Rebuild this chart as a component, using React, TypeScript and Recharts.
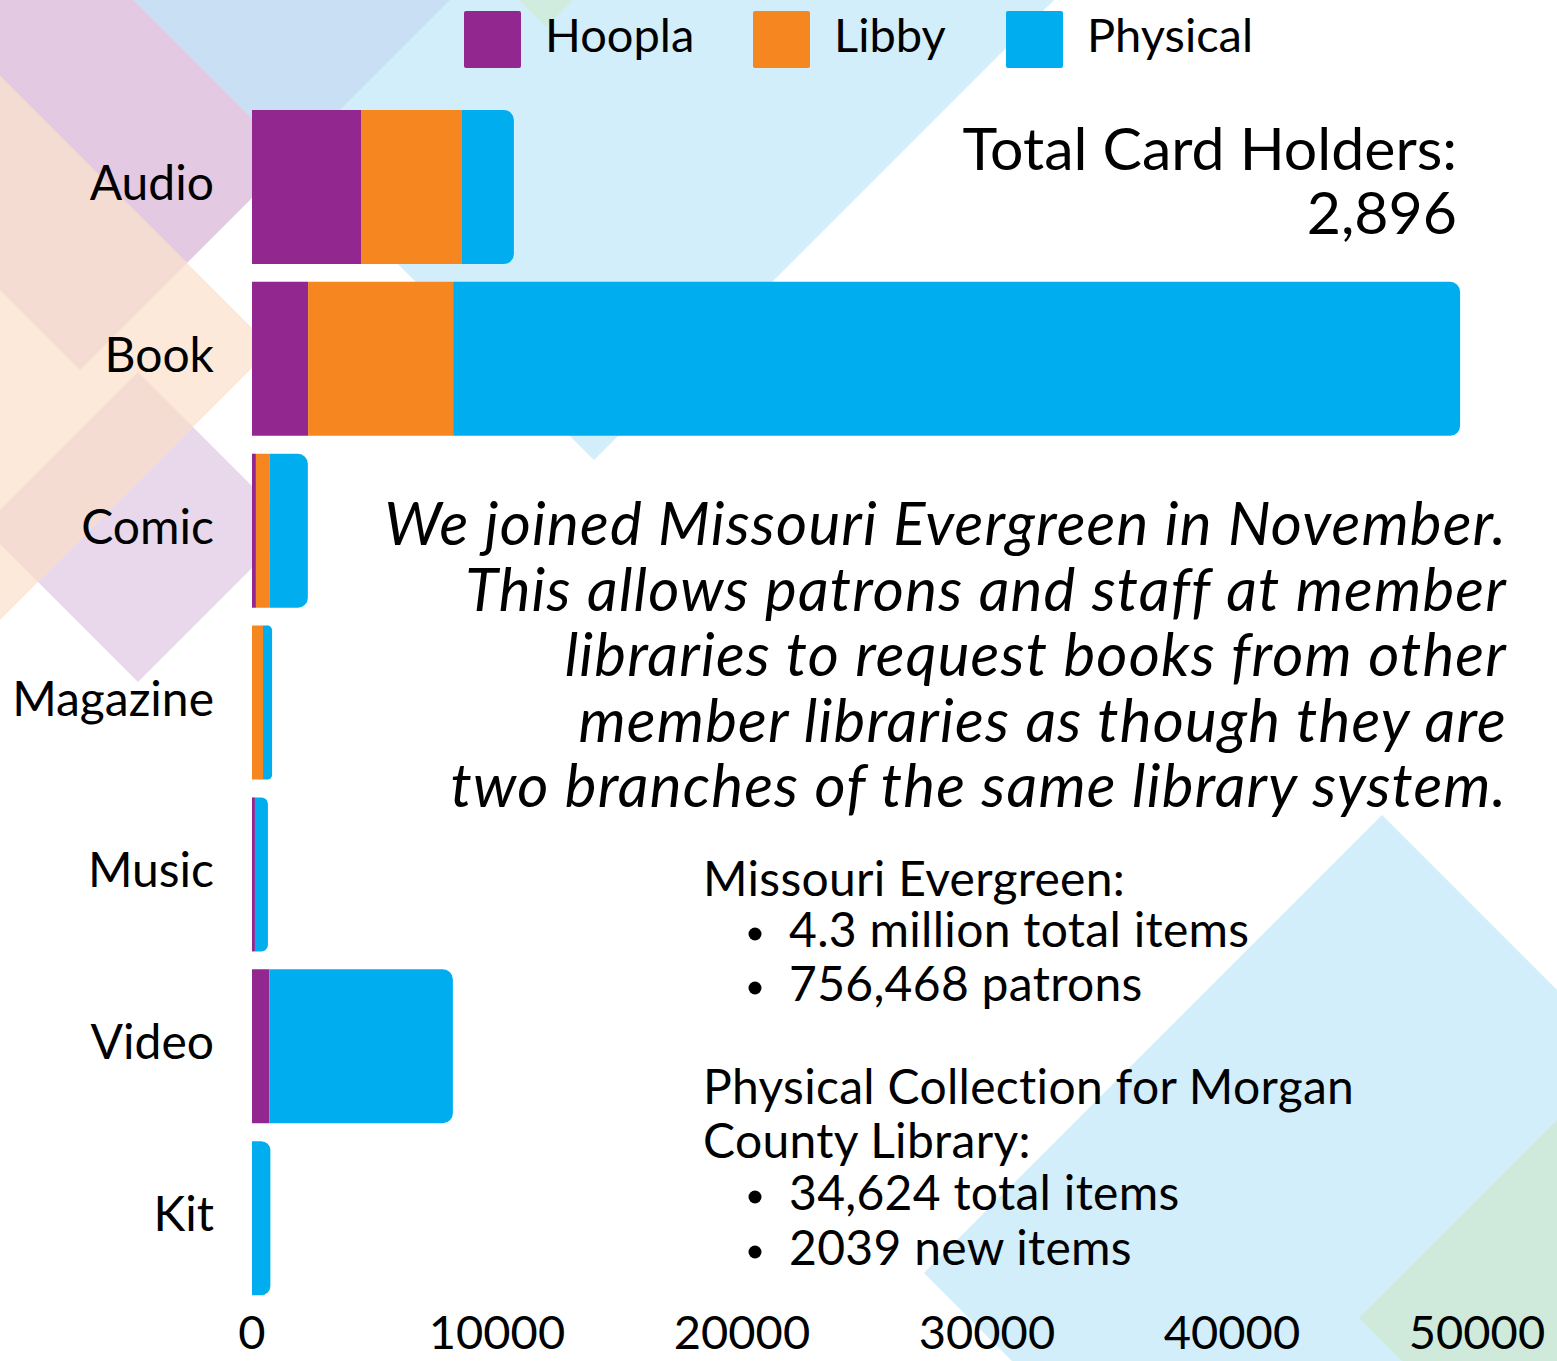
import { Bar, BarChart, XAxis, YAxis } from "recharts";

const categories = ["Audio", "Book", "Comic", "Magazine", "Music", "Video", "Kit"];
const hoopla = [4450, 2290, 160, 0, 120, 710, 0];
const libby = [4120, 5920, 570, 450, 0, 0, 0];
const physical = [2120, 41100, 1550, 370, 530, 7490, 750];
const xTicks = [0, 10000, 20000, 30000, 40000, 50000];

const series = [
  { key: "hoopla", label: "Hoopla", color: "#92278f" },
  { key: "libby", label: "Libby", color: "#f58620" },
  { key: "physical", label: "Physical", color: "#00aeef" },
];

const data = categories.map((name, i) => ({
  name,
  hoopla: hoopla[i],
  libby: libby[i],
  physical: physical[i],
}));

const FONT = "Lato, 'Open Sans', sans-serif";

// background diamonds, purely decorative
const diamond = (cx: number, cy: number, h: number) =>
  `${cx},${cy - h} ${cx + h},${cy} ${cx},${cy + h} ${cx - h},${cy}`;

const blueTop = diamond(594, 0, 460);
const purpleTop = diamond(80, -30, 400);
const peach = diamond(-128, 348, 400);
const purpleMid = diamond(138, 527, 155);
const greenTop = diamond(546, -33, 60);
const blueBottom = diamond(1382, 1273, 458);
const greenBottom = diamond(1759, 1318, 400);

function Background() {
  return (
    <svg width={1557} height={1361} style={{ position: "absolute", left: 0, top: 0 }}>
      <defs>
        <clipPath id="clipPurpleTop">
          <polygon points={purpleTop} />
        </clipPath>
        <clipPath id="clipPurpleMid">
          <polygon points={purpleMid} />
        </clipPath>
      </defs>
      <polygon points={purpleTop} fill="#e4c9e2" />
      <polygon points={purpleMid} fill="#e9d8eb" />
      <polygon points={peach} fill="#fce9d9" />
      <polygon points={peach} fill="#f5dcd2" clipPath="url(#clipPurpleTop)" />
      <polygon points={peach} fill="#f5dcd2" clipPath="url(#clipPurpleMid)" />
      <polygon points={blueTop} fill="#d2eefa" />
      <polygon points={blueTop} fill="#c9dff3" clipPath="url(#clipPurpleTop)" />
      <polygon points={greenTop} fill="#d0ecdf" />
      <polygon points={blueBottom} fill="#d2eefa" />
      <polygon points={greenBottom} fill="#cfeadb" />
    </svg>
  );
}

const paragraph = [
  "We joined Missouri Evergreen in November.",
  "This allows patrons and staff at member",
  "libraries to request books from other",
  "member libraries as though they are",
  "two branches of the same library system.",
];

const legendX = [464, 753, 1006];

function Overlay() {
  return (
    <svg
      width={1557}
      height={1361}
      style={{ position: "absolute", left: 0, top: 0, pointerEvents: "none" }}
      fontFamily={FONT}
    >
      {/* legend */}
      {series.map((s, i) => (
        <g key={s.key}>
          <rect x={legendX[i]} y={11} width={57} height={57} rx={2} fill={s.color} />
          <text x={legendX[i] + 81} y={52} fontSize={47} fill="#000">
            {s.label}
          </text>
        </g>
      ))}

      <text x={1457} y={170} fontSize={59} textAnchor="end" fill="#000">
        Total Card Holders:
      </text>
      <text x={1457} y={234} fontSize={59} textAnchor="end" fill="#000">
        2,896
      </text>

      {paragraph.map((line, i) => (
        <text
          key={i}
          x={1507}
          y={545 + i * 65.5}
          fontSize={60}
          letterSpacing={1.2}
          fontStyle="italic"
          textAnchor="end"
          fill="#000"
        >
          {line}
        </text>
      ))}

      <g fontSize={48} letterSpacing={0.3} fill="#000">
        <text x={703} y={896}>Missouri Evergreen:</text>
        <circle cx={755} cy={934} r={6.5} />
        <text x={789} y={947}>4.3 million total items</text>
        <circle cx={755} cy={988} r={6.5} />
        <text x={789} y={1001}>756,468 patrons</text>
        <text x={703} y={1104}>Physical Collection for Morgan</text>
        <text x={703} y={1158}>County Library:</text>
        <circle cx={755} cy={1197} r={6.5} />
        <text x={789} y={1210}>34,624 total items</text>
        <circle cx={755} cy={1252} r={6.5} />
        <text x={789} y={1265}>2039 new items</text>
      </g>
    </svg>
  );
}

export default function App() {
  return (
    <div
      style={{
        position: "absolute",
        left: 0,
        top: 0,
        width: 1557,
        height: 1361,
        background: "#fff",
        overflow: "hidden",
      }}
    >
      <Background />
      <div style={{ position: "absolute", left: 0, top: 0 }}>
        <BarChart
          width={1557}
          height={1361}
          data={data}
          layout="vertical"
          margin={{ top: 101, right: 80, bottom: 0, left: 0 }}
          barCategoryGap={9}
        >
          <XAxis
            type="number"
            domain={[0, 50000]}
            ticks={xTicks}
            axisLine={false}
            tickLine={false}
            tickSize={0}
            tickMargin={12}
            height={57}
            interval={0}
            tick={{ fontSize: 47, fill: "#000", fontFamily: FONT }}
          />
          <YAxis
            type="category"
            dataKey="name"
            width={252}
            axisLine={false}
            tickLine={false}
            tickSize={0}
            tickMargin={38}
            tick={{ fontSize: 48, fill: "#000", fontFamily: FONT, dy: -4 }}
          />
          {series.map((s) => (
            <Bar
              key={s.key}
              dataKey={s.key}
              stackId="a"
              fill={s.color}
              isAnimationActive={false}
              radius={s.key === "physical" ? [0, 10, 10, 0] : 0}
            />
          ))}
        </BarChart>
      </div>
      <Overlay />
    </div>
  );
}
